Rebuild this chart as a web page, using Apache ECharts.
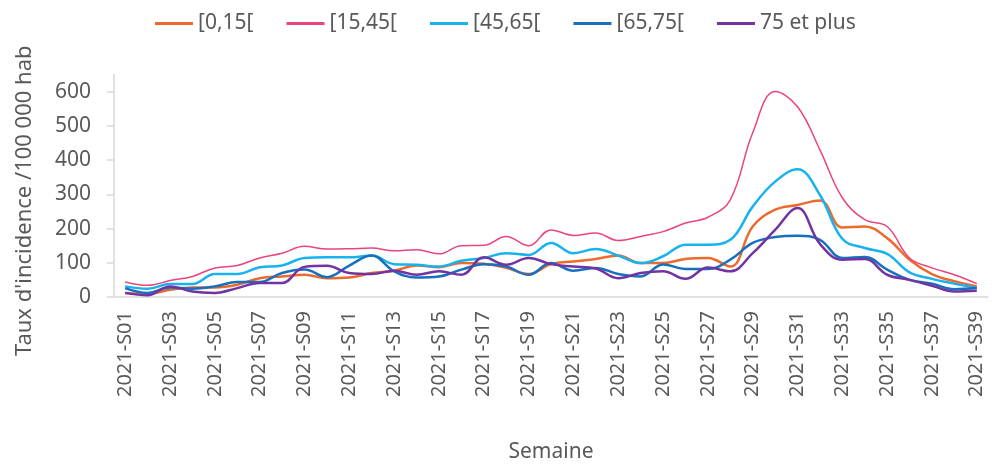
<!DOCTYPE html>
<html lang="fr">
<head>
  <meta charset="UTF-8">
  <title>Taux d'incidence par classe d'âge</title>
  <style>
    html, body { width: 100%; height: 100%; margin: 0; padding: 0; background: #fff; }
    #chart { width: 1000px; height: 464px; }
  </style>
</head>
<body>
  <div id="chart"></div>
  <script src="https://cdn.jsdelivr.net/npm/echarts@6/dist/echarts.min.js"></script>
  <script>
    // semaines 2021-S01 .. 2021-S39
    var weeks = [];
    for (var w = 1; w <= 39; w++) {
      weeks.push('2021-S' + (w < 10 ? '0' + w : w));
    }

    var yTicks = [0, 100, 200, 300, 400, 500, 600];

    // taux d'incidence /100 000 hab
    var age0_15 = [12, 9, 21, 28, 28, 36, 55, 60, 65, 55, 57, 70, 77, 92, 87, 99, 97, 85, 67, 96,
      104, 111, 121, 99, 99, 111, 114, 89, 206, 255, 269, 282, 203, 206, 172, 109, 67, 46, 31];
    var age15_45 = [44, 34, 48, 60, 85, 92, 114, 128, 148, 140, 141, 143, 135, 138, 126, 150, 151, 177, 150, 196,
      180, 187, 165, 177, 191, 216, 233, 284, 480, 600, 556, 430, 290, 226, 206, 114, 85, 65, 39];
    var age45_65 = [31, 24, 38, 38, 67, 67, 87, 92, 114, 116, 116, 121, 96, 94, 89, 106, 114, 128, 123, 158,
      128, 140, 121, 99, 119, 153, 153, 167, 264, 337, 373, 298, 170, 143, 126, 72, 53, 39, 26];
    var age65_75 = [26, 12, 28, 24, 31, 44, 44, 70, 80, 58, 92, 121, 75, 57, 60, 80, 96, 89, 65, 99,
      77, 85, 67, 60, 95, 82, 82, 109, 158, 175, 179, 167, 114, 117, 80, 50, 39, 23, 26];
    var age75plus = [12, 5, 31, 16, 12, 26, 41, 41, 88, 91, 70, 67, 77, 65, 75, 65, 116, 94, 114, 96,
      89, 83, 55, 70, 75, 53, 86, 75, 128, 196, 260, 155, 109, 111, 65, 50, 33, 16, 18];

    var seriesInfo = [
      { name: '[0,15[', data: age0_15, color: '#EB6B2F', width: 2.5 },
      { name: '[15,45[', data: age15_45, color: '#E9457C', width: 1.5 },
      { name: '[45,65[', data: age45_65, color: '#18B2EE', width: 2.5 },
      { name: '[65,75[', data: age65_75, color: '#1670BE', width: 2.5 },
      { name: '75 et plus', data: age75plus, color: '#7234A2', width: 2.5 }
    ];

    var txt = '#595959';
    var font = 'Noto Sans';

    var chart = echarts.init(document.getElementById('chart'));
    chart.setOption({
      animation: false,
      textStyle: { fontFamily: font },
      legend: {
        top: 8,
        left: 150,
        icon: 'rect',
        itemWidth: 38,
        itemHeight: 3,
        itemGap: 33,
        textStyle: { color: txt, fontSize: 21, fontFamily: font },
        data: seriesInfo.map(function (s) { return s.name; })
      },
      grid: { left: 114, right: 12, top: 74.5, bottom: 166.7 },
      xAxis: {
        type: 'category',
        data: weeks,
        boundaryGap: true,
        name: 'Semaine',
        nameLocation: 'middle',
        nameGap: 145,
        nameTextStyle: { color: txt, fontSize: 21, fontFamily: font },
        axisLine: { lineStyle: { color: '#d9d9d9', width: 1.5 } },
        axisTick: { interval: 0, length: 7, lineStyle: { color: '#d9d9d9', width: 1.5 } },
        axisLabel: { rotate: 90, interval: 1, margin: 14, color: txt, fontSize: 20, fontFamily: font }
      },
      yAxis: {
        type: 'value',
        min: 0,
        max: 650,
        interval: 100,
        name: "Taux d'incidence /100 000 hab",
        nameLocation: 'middle',
        nameGap: 78,
        nameTextStyle: { color: txt, fontSize: 22, fontFamily: font, padding: [0, 30, 0, 0] },
        splitLine: { show: false },
        axisLine: { show: true, lineStyle: { color: '#d9d9d9', width: 1.5 } },
        axisTick: { show: true, length: 7, customValues: yTicks, lineStyle: { color: '#d9d9d9', width: 1.5 } },
        axisLabel: { customValues: yTicks, margin: 23, color: txt, fontSize: 21, fontFamily: font }
      },
      series: seriesInfo.map(function (s) {
        return {
          name: s.name,
          type: 'line',
          data: s.data,
          smooth: 0.4,
          symbol: 'none',
          color: s.color,
          lineStyle: { color: s.color, width: s.width }
        };
      })
    });
  </script>
</body>
</html>
